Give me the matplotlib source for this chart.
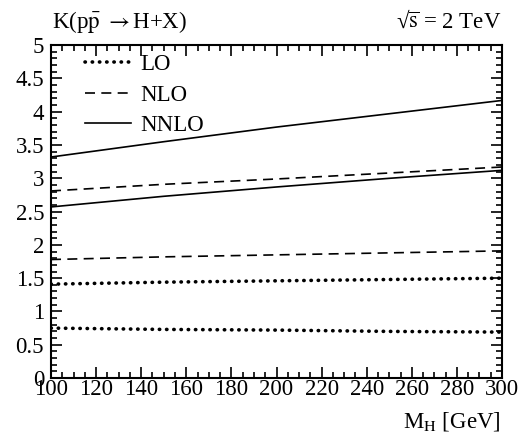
import numpy as np
import matplotlib
matplotlib.use('Agg')
import matplotlib.pyplot as plt
from matplotlib.ticker import MultipleLocator

plt.rcParams['font.family'] = ['Liberation Serif', 'DejaVu Serif']
plt.rcParams['mathtext.fontset'] = 'stix'

mh = [100, 150, 200, 250, 300]
lo_up = [1.41, 1.44, 1.46, 1.48, 1.50]
lo_lo = [0.75, 0.73, 0.72, 0.70, 0.69]
nlo_up = [2.81, 2.91, 2.99, 3.08, 3.17]
nlo_lo = [1.78, 1.82, 1.85, 1.88, 1.91]
nnlo_up = [3.32, 3.55, 3.77, 3.97, 4.17]
nnlo_lo = [2.57, 2.73, 2.87, 3.00, 3.12]
yticks = np.arange(0, 5.01, 0.5)
ylabels = ['0', '0.5', '1', '1.5', '2', '2.5', '3', '3.5', '4', '4.5', '5']

fs = 16.5

fig = plt.figure(figsize=(5.27, 4.43), dpi=100)
ax = fig.add_axes([0.0968, 0.1467, 0.8558, 0.7513])

dot = dict(color='black', lw=2.6, linestyle=(0, (0.1, 1.9)), dash_capstyle='round')
dash = dict(color='black', lw=1.2, linestyle=(0, (6, 3.8)))
solid = dict(color='black', lw=1.2)

ax.plot(mh, lo_up, label='LO', **dot)
ax.plot(mh, lo_lo, **dot)
ax.plot(mh, nlo_up, label='NLO', **dash)
ax.plot(mh, nlo_lo, **dash)
ax.plot(mh, nnlo_up, label='NNLO', **solid)
ax.plot(mh, nnlo_lo, **solid)

ax.set_xlim(100, 300)
ax.set_ylim(0, 5)
ax.xaxis.set_major_locator(MultipleLocator(20))
ax.xaxis.set_minor_locator(MultipleLocator(5))
ax.set_yticks(yticks)
ax.set_yticklabels(ylabels)
ax.yaxis.set_minor_locator(MultipleLocator(0.1))
ax.tick_params(which='both', direction='in', top=True, right=True, labelsize=fs, width=1.2)
ax.tick_params(which='major', length=8)
ax.tick_params(which='minor', length=4)
ax.tick_params(axis='x', pad=1)
ax.tick_params(axis='y', pad=5)
for s in ax.spines.values():
    s.set_linewidth(1.5)

ax.legend(loc='upper left', frameon=False, fontsize=fs, handlelength=2.0,
          handletextpad=0.4, labelspacing=0.4, bbox_to_anchor=(0.055, 1.0),
          borderaxespad=0.0)

fig.text(0.099, 0.937, r'K(p$\bar{\mathrm{p}}$ $\rightarrow$H+X)', fontsize=fs, ha='left', va='baseline')
fig.text(0.952, 0.937, '\u221a' + r'$\overline{\mathrm{s}}$ = 2 TeV', fontsize=fs, ha='right', va='baseline')
fig.text(0.950, 0.035, r'M$_{\mathrm{H}}$ [GeV]', fontsize=fs, ha='right', va='baseline')

fig.savefig('out.png', dpi=100)
